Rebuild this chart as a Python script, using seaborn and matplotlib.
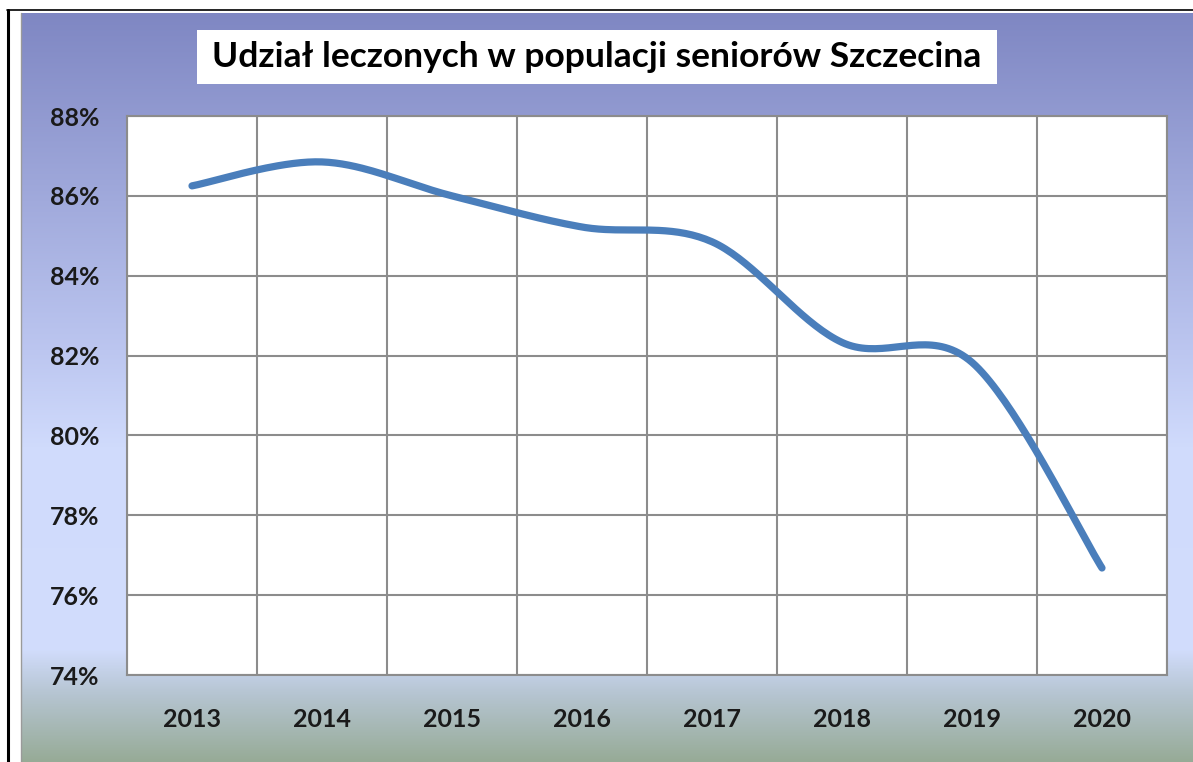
import numpy as np
import pandas as pd
import matplotlib
matplotlib.use('Agg')
import matplotlib.pyplot as plt
import seaborn as sns
from matplotlib.colors import LinearSegmentedColormap
from matplotlib.patches import Rectangle
from matplotlib.lines import Line2D

# ---- dane ----
years = ['2013', '2014', '2015', '2016', '2017', '2018', '2019', '2020']
share = [86.25, 86.85, 86.0, 85.22, 84.85, 82.33, 81.83, 76.68]
y_ticks = [74, 76, 78, 80, 82, 84, 86, 88]
title = 'Udział leczonych w populacji seniorów Szczecina'

sns.set_theme(style='white')
plt.rcParams['font.family'] = ['Lato', 'DejaVu Sans']

W, H = 1193, 762
fig = plt.figure(figsize=(W / 100, H / 100), dpi=100)
fig.patch.set_facecolor('white')

# tło z gradientem (jak w Excelu)
bg = fig.add_axes([21 / W, 0, 1 - 21 / W, 1 - 13 / H])
cmap = LinearSegmentedColormap.from_list('bg', [
    (0.00, '#7f87c3'),
    (0.45, '#bcc6f0'),
    (0.58, '#d0dbfc'),
    (0.85, '#d2ddfd'),
    (0.91, '#b6c5d2'),
    (1.00, '#97ab97'),
])
grad = np.linspace(0, 1, 256).reshape(-1, 1)
bg.imshow(grad, aspect='auto', cmap=cmap, extent=[0, 1, 0, 1], origin='upper')
bg.set_axis_off()

# czarna ramka (lewa i górna krawędź)
fig.add_artist(Line2D([8 / W, 8 / W], [0, 1 - 10 / H], color='black', lw=2.2,
                      transform=fig.transFigure))
fig.add_artist(Line2D([7 / W, 1], [1 - 10 / H, 1 - 10 / H], color='black', lw=1.2,
                      transform=fig.transFigure))
fig.add_artist(Line2D([21 / W, 21 / W], [0, 1 - 13 / H], color='#9a9a9a', lw=1.0,
                      transform=fig.transFigure))

# ---- wykres ----
ax = fig.add_axes([127 / W, (H - 675) / H, 1040 / W, 559 / H])
ax.set_facecolor('white')

# wygładzona linia (krzywe Beziera jak "smoothed line" w Excelu)
xs = np.arange(len(years), dtype=float)
ys = np.array(share)
px = np.concatenate([[xs[0]], xs, [xs[-1]]])
py = np.concatenate([[ys[0]], ys, [ys[-1]]])
sx, sy = [], []
t = np.linspace(0, 1, 40)
for i in range(1, len(px) - 2):
    p0 = np.array([px[i], py[i]])
    p3 = np.array([px[i + 1], py[i + 1]])
    b1 = p0 + (p3 - np.array([px[i - 1], py[i - 1]])) / 6
    b2 = p3 - (np.array([px[i + 2], py[i + 2]]) - p0) / 6
    pts = ((1 - t) ** 3)[:, None] * p0 + (3 * (1 - t) ** 2 * t)[:, None] * b1 \
        + (3 * (1 - t) * t ** 2)[:, None] * b2 + (t ** 3)[:, None] * p3
    sx.extend(pts[:, 0])
    sy.extend(pts[:, 1])
curve = pd.DataFrame({'x': sx, 'y': sy})

sns.lineplot(data=curve, x='x', y='y', ax=ax, color='#4a7ebb', lw=5.2,
             solid_capstyle='round', sort=False, zorder=3)

ax.set_xlim(-0.5, len(years) - 0.5)
ax.set_ylim(74, 88)
ax.set_xticks(xs)
ax.set_xticklabels(years)
ax.set_xticks(np.arange(len(years) + 1) - 0.5, minor=True)
ax.set_yticks(y_ticks)
ax.set_yticklabels([f'{v}%' for v in y_ticks])
ax.grid(False)
ax.grid(True, which='minor', axis='x', color='#8c8c8c', lw=1.5)
ax.grid(True, which='major', axis='y', color='#8c8c8c', lw=1.5)
ax.tick_params(axis='both', which='both', length=0)
ax.tick_params(axis='x', pad=24, labelsize=18)
ax.tick_params(axis='y', pad=20, labelsize=18)
for lab in ax.get_xticklabels() + ax.get_yticklabels():
    lab.set_fontweight('bold')
    lab.set_color('#1a1a1a')
for s in ax.spines.values():
    s.set_color('#8c8c8c')
    s.set_linewidth(1.5)
ax.set_xlabel('')
ax.set_ylabel('')

# tytuł w białej ramce
fig.add_artist(Rectangle((197 / W, 1 - 84 / H), 800 / W, 54 / H, facecolor='white',
                         edgecolor='none', transform=fig.transFigure))
fig.text(597 / W, 1 - 57 / H, title, ha='center', va='center', fontsize=25.5,
         fontweight='bold', color='black')

fig.savefig('out.png', dpi=100)
